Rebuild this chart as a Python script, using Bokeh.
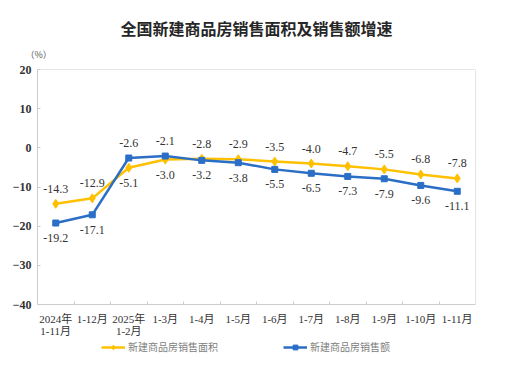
from bokeh.plotting import figure
from bokeh.models import (Range1d, FixedTicker, Title, Legend, LegendItem, ColumnDataSource,
                          BoxAnnotation)
from bokeh.core.properties import value
from bokeh.embed import file_html
from bokeh.resources import INLINE

categories = ["2024年\n1-11月", "1-12月", "2025年\n1-2月", "1-3月", "1-4月", "1-5月",
              "1-6月", "1-7月", "1-8月", "1-9月", "1-10月", "1-11月"]
area_growth = [-14.3, -12.9, -5.1, -3.0, -2.8, -2.9, -3.5, -4.0, -4.7, -5.5, -6.8, -7.8]
sales_growth = [-19.2, -17.1, -2.6, -2.1, -3.2, -3.8, -5.5, -6.5, -7.3, -7.9, -9.6, -11.1]
y_ticks = [-40, -30, -20, -10, 0, 10, 20]
title_text = "全国新建商品房销售面积及销售额增速"
unit_text = "（%）"
area_name = "新建商品房销售面积"
sales_name = "新建商品房销售额"

YELLOW = "#FFC000"
BLUE = "#2A6EC6"
GRID = "#cccccc"
SERIF = "'Liberation Serif', 'Noto Sans CJK SC'"
CJK = "Noto Sans CJK SC"

W, H = 514, 373
ML, MR, MT, MB = 37, 39, 69, 4
y_lo, y_hi = -40, 20
ppu = 235 / (y_hi - y_lo)            # pixels per unit of the axis box
frame_h = H - MT - MB
y_bottom = y_hi - frame_h / ppu      # frame extends below the axis box for labels/legend

xs = list(range(len(categories)))
x_lo, x_hi = -0.5, len(categories) - 0.5

p = figure(width=W, height=H, output_backend="svg", toolbar_location=None,
           x_range=Range1d(x_lo, x_hi), y_range=Range1d(y_bottom, y_hi),
           min_border_left=ML, min_border_right=MR, min_border_top=MT, min_border_bottom=MB)
p.background_fill_color = "white"
p.border_fill_color = "white"
p.outline_line_color = None
p.xgrid.visible = False
p.ygrid.visible = False

# box round the plotting area
p.add_layout(BoxAnnotation(left=x_lo, right=x_hi, bottom=y_lo, top=y_hi, fill_alpha=0,
                           line_color=GRID, line_alpha=1, line_width=1))

# main title (outer) and unit title (next to the frame)
p.title.text = title_text
p.title.align = "center"
p.title.standoff = -7
p.title.text_font = CJK
p.title.text_font_size = "16px"
p.title.text_font_style = "bold"
p.title.text_color = "#262626"
p.add_layout(Title(text=unit_text, align="left", offset=-12, standoff=18, text_font=CJK,
                   text_font_size="9px", text_font_style="normal", text_color="#555555"),
             "above")

# y axis
p.yaxis.ticker = FixedTicker(ticks=y_ticks)
p.yaxis.bounds = (y_lo, y_hi)
p.yaxis.axis_line_color = GRID
p.yaxis.major_tick_in = 3
p.yaxis.major_tick_out = 0
p.yaxis.major_tick_line_color = GRID
p.yaxis.minor_tick_line_color = None
p.yaxis.major_label_text_font = "'Liberation Serif'"
p.yaxis.major_label_text_font_size = "12px"
p.yaxis.major_label_text_font_style = "bold"
p.yaxis.major_label_text_color = "#333333"
p.yaxis.major_label_standoff = 6

# x axis, fixed at the bottom of the axis box
p.xaxis.fixed_location = y_lo
p.xaxis.ticker = FixedTicker(ticks=xs, minor_ticks=[i + 0.5 for i in xs[:-1]])
p.xaxis.major_label_overrides = {i: c for i, c in zip(xs, categories)}
p.xaxis.axis_line_color = GRID
p.xaxis.major_tick_line_color = None
p.xaxis.minor_tick_in = 3
p.xaxis.minor_tick_out = 0
p.xaxis.minor_tick_line_color = GRID
p.xaxis.major_label_text_font = SERIF
p.xaxis.major_label_text_font_size = "11px"
p.xaxis.major_label_text_line_height = 1.05
p.xaxis.major_label_text_color = "#333333"
p.xaxis.major_label_standoff = 2

# series
la = p.line(xs, area_growth, line_color=YELLOW, line_width=2.5)
sa = p.scatter(xs, area_growth, marker="diamond", size=9, fill_color=YELLOW, line_color=YELLOW)
lb = p.line(xs, sales_growth, line_color=BLUE, line_width=2.5)
sb = p.scatter(xs, sales_growth, marker="square", size=6, fill_color=BLUE, line_color=BLUE)

# data labels: higher value above, lower below
off = 15 / ppu
lx, ly, lt = [], [], []
for i, (a, s) in enumerate(zip(area_growth, sales_growth)):
    hi, lo = (a, s) if a >= s else (s, a)
    lx += [i, i]
    ly += [hi + off, lo - off]
    lt += [f"{hi:.1f}", f"{lo:.1f}"]
src = ColumnDataSource(dict(x=lx, y=ly, t=lt))
p.text(x="x", y="y", text="t", source=src, text_align="center", text_baseline="middle",
       text_font=value("Liberation Serif"), text_font_size="12px", text_color="#333333")

legend = Legend(items=[LegendItem(label=area_name, renderers=[la, sa]),
                       LegendItem(label=sales_name, renderers=[lb, sb])],
                orientation="horizontal", location=(64, 15), padding=0, margin=0,
                spacing=65, glyph_width=24, glyph_height=12, label_standoff=3,
                label_width=90, label_height=12, border_line_color=None,
                background_fill_alpha=0, label_text_font=CJK,
                label_text_font_size="10px", label_text_color="#808080")
p.add_layout(legend, "center")

open("out.html", "w").write(file_html(p, INLINE))
